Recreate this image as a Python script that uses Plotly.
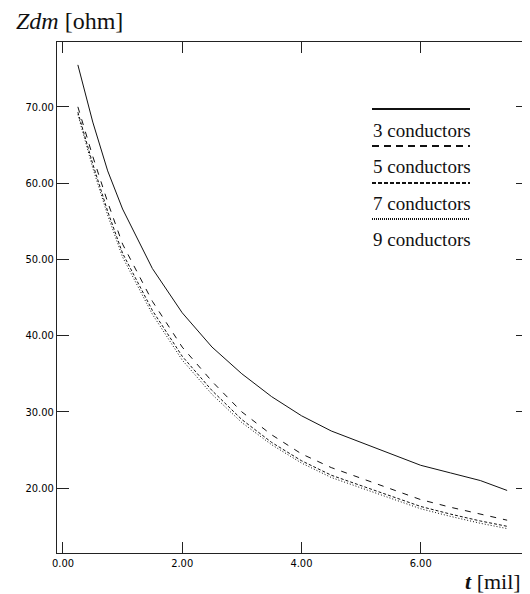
import plotly.graph_objects as go

# ---- data ----
t_mil = [0.25, 0.5, 0.75, 1.0, 1.5, 2.0, 2.5, 3.0, 3.5, 4.0, 4.5, 5.0, 5.5, 6.0, 6.5, 7.0, 7.45]
z_3c = [75.5, 68.0, 61.6, 56.6, 48.8, 43.0, 38.5, 35.0, 32.0, 29.5, 27.5, 26.0, 24.5, 23.0, 22.0, 21.0, 19.7]
z_5c = [70.0, 63.5, 57.5, 52.0, 44.5, 38.5, 34.0, 30.0, 27.0, 24.5, 22.7, 21.3, 20.0, 18.5, 17.5, 16.6, 15.8]
z_7c = [69.3, 62.5, 56.3, 50.8, 43.3, 37.3, 32.8, 29.0, 26.0, 23.6, 21.7, 20.3, 19.0, 17.6, 16.6, 15.7, 15.0]
z_9c = [69.0, 62.0, 55.8, 50.3, 42.8, 36.8, 32.3, 28.6, 25.7, 23.3, 21.4, 20.0, 18.7, 17.3, 16.3, 15.4, 14.7]

series_names = ["3 conductors", "5 conductors", "7 conductors", "9 conductors"]
series_vals = [z_3c, z_5c, z_7c, z_9c]
dash_styles = ["solid", "6px,7px", "3px,2px", "1px,2px"]
legend_dash = ["solid", "7px,5px", "4px,2px", "1px,1px"]

x_ticks = [0, 2, 4, 6]
y_ticks = [20, 30, 40, 50, 60, 70]

# The page body has an 8px margin, so the figure is shifted by 8px;
# size the figure so it fills the remaining window.
OFF = 8
W, H = 530 - OFF, 594 - OFF
L, R, T, B = 57 - OFF, 2, 42 - OFF, 41
pw, ph = W - L - R, H - T - B

# helpers: screen-pixel position -> paper coordinates
def px(xp):
    return (xp - 57) / pw

def py(yp):
    return (553 - yp) / ph

fig = go.Figure()
for name, vals, d in zip(series_names, series_vals, dash_styles):
    fig.add_trace(go.Scatter(x=t_mil, y=vals, mode="lines", name=name,
                             line=dict(color="#111111", width=1, dash=d),
                             showlegend=False))

serif = "Liberation Serif, Times New Roman, serif"

# custom legend: line above each label
leg_line_y = [109, 146, 183, 219]
leg_text_y = [130, 166, 203, 239]
shapes = []
annotations = []
for name, ly, ty, d in zip(series_names, leg_line_y, leg_text_y, legend_dash):
    shapes.append(dict(type="line", xref="paper", yref="paper",
                       x0=px(372), x1=px(470), y0=py(ly), y1=py(ly),
                       line=dict(color="#111111", width=2, dash=d)))
    annotations.append(dict(text=name, xref="paper", yref="paper",
                            x=px(371), y=py(ty), xanchor="left", yanchor="middle",
                            showarrow=False,
                            font=dict(family=serif, size=19, color="#111111")))

annotations.append(dict(
    text="<i>Zdm</i> [ohm]",
    xref="paper", yref="paper", x=px(14), y=py(21), xanchor="left", yanchor="middle",
    showarrow=False,
    font=dict(family=serif, size=24, color="#111111")))
annotations.append(dict(
    text="<b><i>t</i></b> [mil]",
    xref="paper", yref="paper", x=px(523), y=py(581), xanchor="right", yanchor="middle",
    showarrow=False,
    font=dict(family=serif, size=22, color="#111111")))

tickfont = dict(family="DejaVu Sans Condensed, DejaVu Sans, sans-serif", size=11, color="#000000")

fig.update_layout(
    width=W, height=H,
    margin=dict(l=L, r=R, t=T, b=B),
    paper_bgcolor="white", plot_bgcolor="white",
    shapes=shapes, annotations=annotations,
    showlegend=False,
    xaxis=dict(range=[-0.1, 7.8], tickvals=x_ticks,
               ticktext=[f"{v:.2f}" for v in x_ticks],
               showgrid=False, zeroline=False, showline=True, linecolor="#222222",
               linewidth=1, mirror="ticks", ticks="inside", ticklen=11,
               tickcolor="#222222", tickfont=tickfont),
    yaxis=dict(range=[11.5, 78.5], tickvals=y_ticks,
               ticktext=[f"{v:.2f}" for v in y_ticks],
               showgrid=False, zeroline=False, showline=True, linecolor="#222222",
               linewidth=1, mirror="ticks", ticks="inside", ticklen=12,
               tickcolor="#222222", tickfont=tickfont),
)

fig.write_html("out.html")
